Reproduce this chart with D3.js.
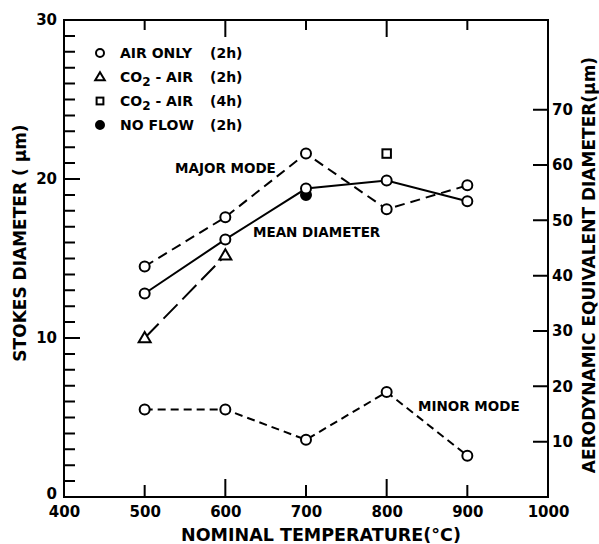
<!DOCTYPE html>
<html>
<head>
<meta charset="utf-8">
<script src="https://cdn.jsdelivr.net/npm/d3@7"></script>
<style>
  body { margin: 0; background: #fff; }
  text { font-family: "DejaVu Sans", sans-serif; font-weight: bold; fill: #000; }
</style>
</head>
<body>
<script>
(function(window, document, d3) {
  // data (Stokes diameter, um)
  var temps = [500, 600, 700, 800, 900];
  var meanDiameter = [12.8, 16.2, 19.4, 19.9, 18.6];
  var majorMode = [14.5, 17.6, 21.6, 18.1, 19.6];
  var minorMode = [5.5, 5.5, 3.6, 6.6, 2.6];
  var co2Temps = [500, 600];
  var co2Air2h = [10.0, 15.2];
  var co2Air4hTemps = [800];
  var co2Air4h = [21.6];
  var noFlowTemps = [700];
  var noFlow = [19.0];

  var xTicks = [400, 500, 600, 700, 800, 900, 1000];
  var yTicks = d3.range(0, 31);
  var aeroTicks = [10, 20, 30, 40, 50, 60, 70];
  var legendLabels = ["AIR ONLY", "CO2 - AIR", "CO2 - AIR", "NO FLOW"];
  var legendTimes = ["(2h)", "(2h)", "(4h)", "(2h)"];
  var legendSymbols = ["circle", "triangle", "square", "dot"];

  var W = 599, H = 544;
  var L = 64, T = 20, R = 548, B = 497;
  var FONT = "'DejaVu Sans', sans-serif";

  var svg = d3.select("body").append("svg").attr("width", W).attr("height", H);

  var x = d3.scaleLinear().domain([400, 1000]).range([L, R]);
  var y = d3.scaleLinear().domain([0, 30]).range([B, T]);
  // aerodynamic axis: same pixels, ~2.87x stokes
  var yAero = d3.scaleLinear().domain([0, 86.2]).range([B, T]);

  function fmtLeft(d) { return d % 10 === 0 ? d : ""; }

  // axis labels through d3 axes, tick marks drawn as paths below
  var gl = svg.append("g").attr("transform", "translate(" + L + ",0)")
    .call(d3.axisLeft(y).tickValues([0, 10, 20, 30]).tickSize(0).tickPadding(7).tickFormat(fmtLeft));
  gl.selectAll(".tick text").attr("dy", function(d) { return d === 0 ? "0.1em" : "0.32em"; });

  svg.append("g").attr("transform", "translate(0," + B + ")")
    .call(d3.axisBottom(x).tickValues(xTicks).tickSize(0).tickPadding(9).tickFormat(d3.format("d")));

  svg.append("g").attr("transform", "translate(" + R + ",0)")
    .call(d3.axisRight(yAero).tickValues(aeroTicks).tickSize(0).tickPadding(4));

  svg.selectAll(".domain").remove();
  svg.selectAll(".tick text").attr("font-size", 15).attr("fill", "#000")
    .attr("font-family", FONT).attr("font-weight", "bold");

  var inner = xTicks.slice(1, -1);
  var tickD = yTicks.map(function(d) {
      return "M" + L + "," + y(d) + "h" + (d % 10 === 0 ? 16 : 11);
    }).join("") +
    inner.map(function(d) {
      return "M" + x(d) + "," + B + "v" + (d % 200 === 0 ? -18 : -12);
    }).join("") +
    inner.map(function(d) {
      return "M" + x(d) + "," + T + "v" + (d % 200 === 0 ? 17 : 10);
    }).join("") +
    aeroTicks.map(function(d) {
      return "M" + R + "," + yAero(d) + "h-15";
    }).join("");
  svg.append("path").attr("d", tickD).attr("fill", "none")
    .attr("stroke", "#000").attr("stroke-width", 2);

  // frame
  svg.append("rect").attr("x", L).attr("y", T).attr("width", R - L).attr("height", B - T)
    .attr("fill", "none").attr("stroke", "#000").attr("stroke-width", 2);

  // axis titles
  svg.append("text").attr("x", 321).attr("y", 541).attr("text-anchor", "middle")
    .attr("font-size", 17.5).text("NOMINAL TEMPERATURE(°C)");
  svg.append("text").attr("transform", "translate(26,243) rotate(-90)").attr("text-anchor", "middle")
    .attr("font-size", 17).text("STOKES DIAMETER ( µm)");
  svg.append("text").attr("transform", "translate(595,265) rotate(-90)").attr("text-anchor", "middle")
    .attr("font-size", 17).text("AERODYNAMIC EQUIVALENT DIAMETER(µm)");

  function pts(xs, ys) { return xs.map(function(t, i) { return [t, ys[i]]; }); }
  var path = d3.line().x(function(d) { return x(d[0]); }).y(function(d) { return y(d[1]); });

  function drawLine(data, dash) {
    svg.append("path").datum(data).attr("d", path).attr("fill", "none")
      .attr("stroke", "#000").attr("stroke-width", 2).attr("stroke-dasharray", dash);
  }

  function marker(g, type, cx, cy, s) {
    if (type === "circle" || type === "dot") {
      g.append("circle").attr("cx", cx).attr("cy", cy).attr("r", s)
        .attr("fill", type === "dot" ? "#000" : "#fff").attr("stroke", "#000").attr("stroke-width", 2);
    } else if (type === "triangle") {
      var a = s * 1.2;
      g.append("path").attr("d", "M" + cx + "," + (cy - a) + "L" + (cx + a) + "," + (cy + a * 0.7) +
        "L" + (cx - a) + "," + (cy + a * 0.7) + "Z")
        .attr("fill", "#fff").attr("stroke", "#000").attr("stroke-width", 2);
    } else {
      g.append("rect").attr("x", cx - s * 0.85).attr("y", cy - s * 0.85)
        .attr("width", s * 1.7).attr("height", s * 1.7)
        .attr("fill", "#fff").attr("stroke", "#000").attr("stroke-width", 2);
    }
  }

  var major = pts(temps, majorMode);
  var mean = pts(temps, meanDiameter);
  var minor = pts(temps, minorMode);
  var co2 = pts(co2Temps, co2Air2h);

  drawLine(major, "10,6");
  drawLine(mean, null);
  drawLine(minor, "8,5");
  drawLine(co2, "20,7");

  var gm = svg.append("g");
  pts(noFlowTemps, noFlow).forEach(function(d) { marker(gm, "dot", x(d[0]), y(d[1]), 5); });
  major.concat(mean, minor).forEach(function(d) { marker(gm, "circle", x(d[0]), y(d[1]), 5); });
  co2.forEach(function(d) { marker(gm, "triangle", x(d[0]), y(d[1]), 5); });
  pts(co2Air4hTemps, co2Air4h).forEach(function(d) { marker(gm, "square", x(d[0]), y(d[1]), 5); });

  // annotations
  svg.append("text").attr("x", 175).attr("y", 173).attr("font-size", 13.5).text("MAJOR MODE");
  svg.append("text").attr("x", 253).attr("y", 237).attr("font-size", 13.5).text("MEAN DIAMETER");
  svg.append("text").attr("x", 418).attr("y", 411).attr("font-size", 13.5).text("MINOR MODE");

  // legend
  var lg = svg.append("g");
  legendLabels.forEach(function(lab, i) {
    var cy = 53 + i * 24;
    marker(lg, legendSymbols[i], 100, cy, 4);
    var t = lg.append("text").attr("x", 120).attr("y", cy + 5).attr("font-size", 14);
    if (lab.indexOf("CO2") === 0) {
      t.append("tspan").text("CO");
      t.append("tspan").attr("dy", 4).attr("font-size", 12).text("2");
      t.append("tspan").attr("dy", -4).text(lab.slice(3));
    } else {
      t.text(lab);
    }
    lg.append("text").attr("x", 210).attr("y", cy + 5).attr("font-size", 14).text(legendTimes[i]);
  });

}).call(this, window, document, d3);
</script>
</body>
</html>
